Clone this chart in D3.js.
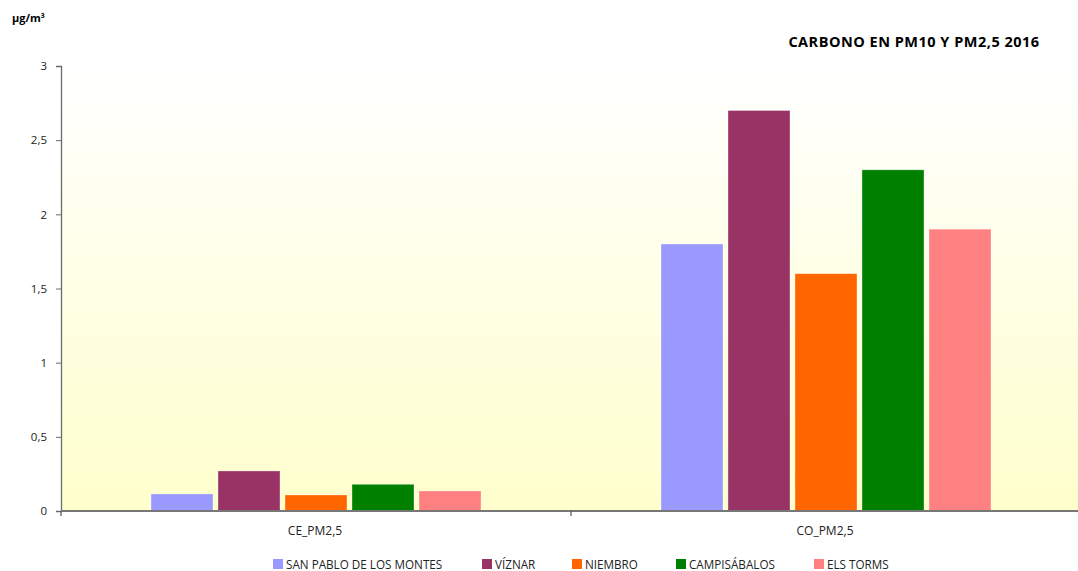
<!DOCTYPE html>
<html><head><meta charset="utf-8">
<script src="https://cdn.jsdelivr.net/npm/d3@7"></script>
<style>body{margin:0;background:#fff;} svg{display:block;}</style>
</head><body>
<svg id="chart" width="1078" height="571"></svg>
<script>
const categories = ["CE_PM2,5", "CO_PM2,5"];
const seriesNames = ["SAN PABLO DE LOS MONTES", "VÍZNAR", "NIEMBRO", "CAMPISÁBALOS", "ELS TORMS"];
const sanPablo = [0.115, 1.8];
const viznar = [0.27, 2.7];
const niembro = [0.108, 1.6];
const campisabalos = [0.18, 2.3];
const elsTorms = [0.135, 1.9];
const yTicks = [0, 0.5, 1, 1.5, 2, 2.5, 3];
const colors = ["#9999FF", "#993366", "#FF6600", "#008000", "#FF8080"];

const seriesValues = [sanPablo, viznar, niembro, campisabalos, elsTorms];
const svg = d3.select("#chart");
const font = "'Open Sans', 'DejaVu Sans', sans-serif";
const pLeft = 61, pRight = 1078, pTop = 66, pBottom = 511;

const defs = svg.append("defs");
const grad = defs.append("linearGradient").attr("id","bg").attr("x1",0).attr("y1",0).attr("x2",0).attr("y2",1);
grad.append("stop").attr("offset","0%").attr("stop-color","#FFFFFF");
grad.append("stop").attr("offset","100%").attr("stop-color","#FFFFCC");

svg.append("rect").attr("x",pLeft).attr("y",pTop).attr("width",pRight-pLeft).attr("height",pBottom-pTop).attr("fill","url(#bg)");

const y = d3.scaleLinear().domain([0,3]).range([pBottom, pTop]);
const x0 = d3.scaleBand().domain(categories).range([pLeft, pLeft + 1020]).paddingInner(0.353).paddingOuter(0.1765);
const x1 = d3.scaleBand().domain(seriesNames).range([0, x0.bandwidth()]).paddingInner(0.075);

const g = svg.append("g");
categories.forEach((c, ci) => {
  g.selectAll(null).data(seriesNames).enter().append("rect")
    .attr("x", s => x0(c) + x1(s))
    .attr("y", (s, si) => y(seriesValues[si][ci]))
    .attr("width", x1.bandwidth())
    .attr("height", (s, si) => pBottom - y(seriesValues[si][ci]))
    .attr("fill", (s, si) => colors[si])
    .attr("stroke", "rgba(255,255,255,0.4)").attr("stroke-width", 0.8);
});

// Y axis
const yAxis = svg.append("g").attr("transform", `translate(${pLeft},0)`)
  .call(d3.axisLeft(y).tickValues(yTicks).tickSize(5).tickPadding(9).tickFormat(d => String(d).replace(".", ",")));
yAxis.select(".domain").attr("stroke", "#6b6b6b").attr("stroke-width", 1.3);
yAxis.selectAll(".tick line").attr("stroke", "#6b6b6b");
yAxis.selectAll("text").attr("font-family", font).attr("font-size", 11.5).attr("fill", "#222");

// X axis
const xAxisLine = svg.append("g");
xAxisLine.append("line").attr("x1", pLeft).attr("x2", pRight).attr("y1", pBottom).attr("y2", pBottom)
  .attr("stroke", "#777").attr("stroke-width", 1.8);
const bounds = [pLeft, pLeft + x0.step()];
xAxisLine.selectAll(null).data(bounds).enter().append("line")
  .attr("x1", d => d).attr("x2", d => d).attr("y1", pBottom).attr("y2", pBottom + 5)
  .attr("stroke", "#555").attr("stroke-width", 1.2);
svg.selectAll(null).data(categories).enter().append("text")
  .attr("x", c => x0(c) + x0.bandwidth()/2 - 1).attr("y", 535)
  .attr("text-anchor", "middle").attr("font-family", font).attr("font-size", 12).attr("fill", "#222")
  .text(c => c);

// Title and unit
svg.append("text").attr("x", 914).attr("y", 47).attr("text-anchor", "middle")
  .attr("font-family", font).attr("font-weight", "bold").attr("font-size", 14.5).attr("letter-spacing", 0.5).attr("fill", "#000")
  .text("CARBONO EN PM10 Y PM2,5 2016");
svg.append("text").attr("x", 12).attr("y", 22)
  .attr("font-family", font).attr("font-weight", "bold").attr("font-size", 11).attr("fill", "#000")
  .text("µg/m³");

// Legend
const legendX = [273, 482, 572, 676, 814];
const lg = svg.append("g");
seriesNames.forEach((s, i) => {
  lg.append("rect").attr("x", legendX[i]).attr("y", 559).attr("width", 10).attr("height", 10).attr("fill", colors[i]);
  lg.append("text").attr("x", legendX[i] + 13).attr("y", 568.5)
    .attr("font-family", font).attr("font-size", 11.7).attr("fill", "#222").text(s);
});
</script>
</body></html>
